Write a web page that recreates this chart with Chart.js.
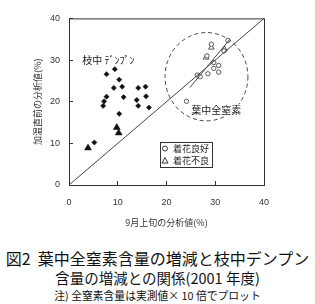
<!DOCTYPE html>
<html>
<head>
<meta charset="utf-8">
<script src="https://cdn.jsdelivr.net/npm/chart.js@4"></script>
<style>
  body { margin: 0; background: #fff; }
  #wrap { position: relative; width: 315px; height: 304px; }
  #myChart { position: absolute; left: 0; top: 0; }
  .cap { position: absolute; left: 0; width: 315px; text-align: center; color: #111;
         font-family: "Noto Sans CJK JP", sans-serif; white-space: nowrap; }
</style>
</head>
<body>
<div id="wrap">
  <canvas id="myChart" width="315" height="240"></canvas>
  <div class="cap" style="top:248px;font-size:16px;line-height:20px;">図2&nbsp; 葉中全窒素含量の増減と枝中デンプン</div>
  <div class="cap" style="top:268px;font-size:14.5px;line-height:20px;">含量の増減との関係(2001 年度)</div>
  <div class="cap" style="top:287px;font-size:10.8px;line-height:16px;">注) 全窒素含量は実測値× 10 倍でプロット</div>
</div>
<script>
// 枝中デンプン (filled diamonds = 着花良好, filled triangles = 着花不良)
var starchGoodX = [9.4, 7.7, 10.3, 9.2, 10.9, 14.2, 15.7, 7.7, 7.2, 7.0, 11.2, 13.9, 15.8, 14.2, 16.4, 10.3, 5.2];
var starchGoodY = [27.8, 26.6, 25.3, 23.3, 23.6, 23.3, 23.6, 21.2, 20.1, 19.0, 21.1, 20.4, 21.3, 19.0, 18.6, 17.1, 10.2];
var starchPoorX = [3.9, 9.8, 10.2];
var starchPoorY = [8.9, 13.8, 12.5];

// 葉中全窒素 (open circles = 着花良好, open triangles = 着花不良)
var nitroGoodX = [24.1, 26.3, 26.9, 28.5, 30.7, 29.7, 30.7, 29.7, 28.3, 29.2, 32.6, 31.8];
var nitroGoodY = [20.1, 26.4, 26.0, 26.7, 27.1, 28.0, 28.7, 29.4, 31.0, 33.8, 34.7, 32.2];
var nitroPoorX = [29.2, 31.9, 28.1];
var nitroPoorY = [33.0, 32.6, 30.6];

// 1:1 line and the regression line through the nitrogen group
var diagX = [0, 40];
var diagY = [0, 40];
var regX = [24.8, 33.0];
var regY = [23.4, 35.0];

var axisTicks = [0, 10, 20, 30, 40];
var legendLabels = ['着花良好', '着花不良'];

function pts(xs, ys) {
  return xs.map(function (x, i) { return {x: x, y: ys[i]}; });
}

var ink = '#333';

var extras = {
  id: 'extras',
  beforeDatasetsDraw: function (chart) {
    var c = chart.ctx, sx = chart.scales.x, sy = chart.scales.y;
    // dashed circle round the leaf nitrogen group
    var cx = sx.getPixelForValue(28.2), cy = sy.getPixelForValue(26.0);
    var rx = sx.getPixelForValue(28.2 + 8.5) - cx;
    var ry = cy - sy.getPixelForValue(26.0 + 10.6);
    c.save();
    c.setLineDash([4, 3]);
    c.strokeStyle = '#444';
    c.lineWidth = 1;
    c.beginPath();
    c.ellipse(cx, cy, rx, ry, 0, 0, Math.PI * 2);
    c.stroke();
    c.restore();
  },
  afterDatasetsDraw: function (chart) {
    var c = chart.ctx, a = chart.chartArea, sx = chart.scales.x, sy = chart.scales.y;
    c.save();
    // box round the plot
    c.strokeStyle = ink;
    c.lineWidth = 1;
    c.strokeRect(a.left + 0.5, a.top + 0.5, a.right - a.left, a.bottom - a.top);

    // group labels
    c.font = '10px "Noto Sans CJK JP"';
    c.fillStyle = '#222';
    c.textBaseline = 'middle';
    c.textAlign = 'left';
    c.fillText('枝中 ﾃﾞﾝﾌﾟﾝ', sx.getPixelForValue(2.7), sy.getPixelForValue(29.9));

    var lx = sx.getPixelForValue(30.2), ly = sy.getPixelForValue(17.9);
    c.textAlign = 'center';
    var w = c.measureText('葉中全窒素').width;
    c.fillStyle = '#fff';
    c.fillRect(lx - w / 2 - 2, ly - 6, w + 4, 12);
    c.fillStyle = '#222';
    c.fillText('葉中全窒素', lx, ly);

    // legend box
    var bx = 160, by = 142, bw = 52, bh = 25;
    c.fillStyle = '#fff';
    c.fillRect(bx, by, bw, bh);
    c.strokeStyle = ink;
    c.strokeRect(bx + 0.5, by + 0.5, bw, bh);
    c.lineWidth = 1;
    c.beginPath();
    c.arc(bx + 5, by + 6.5, 2.5, 0, Math.PI * 2);
    c.stroke();
    c.beginPath();
    c.moveTo(bx + 5, by + 15.5);
    c.lineTo(bx + 8, by + 21);
    c.lineTo(bx + 2, by + 21);
    c.closePath();
    c.stroke();
    c.fillStyle = '#222';
    c.textAlign = 'left';
    c.font = '9px "Noto Sans CJK JP"';
    c.fillText(legendLabels[0], bx + 13, by + 6.5);
    c.fillText(legendLabels[1], bx + 13, by + 18.5);
    c.restore();
  }
};

var ctx = document.getElementById('myChart').getContext('2d');

var axisFont = {family: '"Liberation Sans", Arial, sans-serif', size: 9};
var titleFont = {family: '"Noto Sans CJK JP", sans-serif', size: 9};

var myChart = new Chart(ctx, {
  type: 'scatter',
  data: {
    datasets: [{
      label: 'diag',
      data: pts(diagX, diagY),
      showLine: true,
      borderColor: '#444',
      borderWidth: 1,
      pointRadius: 0
    }, {
      label: 'reg',
      data: pts(regX, regY),
      showLine: true,
      borderColor: '#444',
      borderWidth: 1,
      pointRadius: 0
    }, {
      label: '枝中デンプン 着花良好',
      data: pts(starchGoodX, starchGoodY),
      pointStyle: 'rectRot',
      pointRadius: 2.6,
      backgroundColor: '#111',
      borderColor: '#111',
      borderWidth: 0.5
    }, {
      label: '枝中デンプン 着花不良',
      data: pts(starchPoorX, starchPoorY),
      pointStyle: 'triangle',
      pointRadius: 4,
      backgroundColor: '#111',
      borderColor: '#111',
      borderWidth: 0.5
    }, {
      label: '葉中全窒素 着花良好',
      data: pts(nitroGoodX, nitroGoodY),
      pointStyle: 'circle',
      pointRadius: 2.2,
      backgroundColor: '#fff',
      borderColor: '#333',
      borderWidth: 0.8
    }, {
      label: '葉中全窒素 着花不良',
      data: pts(nitroPoorX, nitroPoorY),
      pointStyle: 'triangle',
      pointRadius: 3.2,
      backgroundColor: '#fff',
      borderColor: '#333',
      borderWidth: 0.8
    }]
  },
  options: {
    responsive: false,
    animation: false,
    layout: {padding: {left: 0, top: 11, right: 51, bottom: 0}},
    plugins: {
      legend: {display: false},
      tooltip: {enabled: false}
    },
    scales: {
      x: {
        type: 'linear',
        min: 0, max: 40,
        afterBuildTicks: function (s) { s.ticks = axisTicks.map(function (v) { return {value: v}; }); },
        afterFit: function (s) { s.height = 55; },
        grid: {drawOnChartArea: false, tickLength: -4, color: ink},
        border: {color: ink},
        ticks: {font: axisFont, color: '#333', padding: 16, maxRotation: 0},
        title: {display: true, text: '9月上旬の分析値(%)', font: titleFont, color: '#333', padding: {top: 0, bottom: 12}}
      },
      y: {
        type: 'linear',
        min: 0, max: 40,
        afterBuildTicks: function (s) { s.ticks = axisTicks.map(function (v) { return {value: v}; }); },
        afterFit: function (s) { s.width = 69; },
        grid: {drawOnChartArea: false, tickLength: -4, color: ink},
        border: {color: ink},
        ticks: {font: axisFont, color: '#333', padding: 13},
        title: {display: true, text: '加温直前の分析値(%)', font: titleFont, color: '#333', padding: {top: 32, bottom: 0}}
      }
    }
  },
  plugins: [extras]
});
</script>
</body>
</html>
